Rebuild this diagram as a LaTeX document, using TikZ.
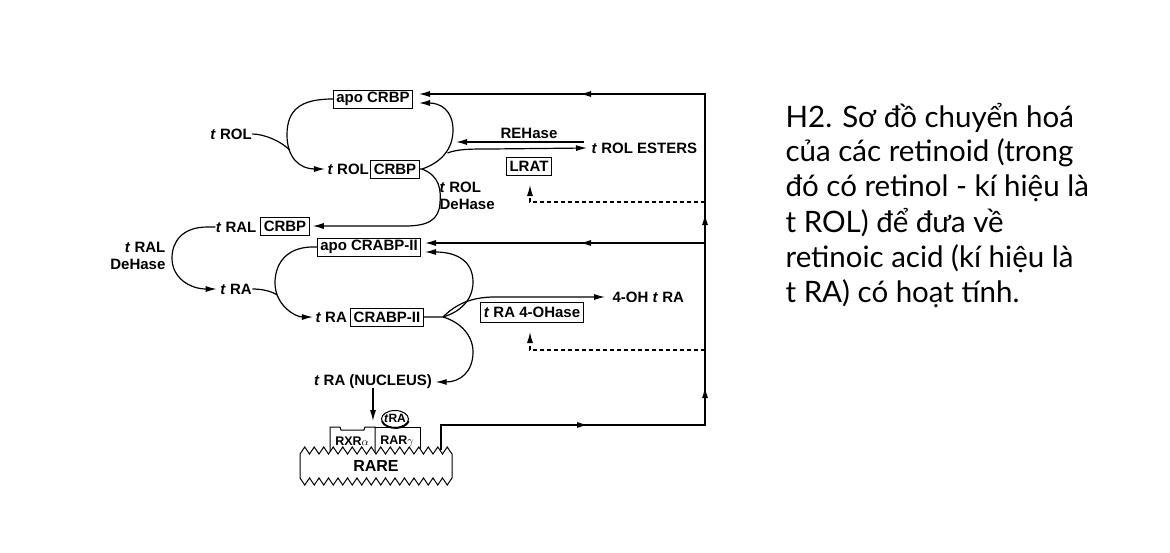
\documentclass[tikz,border=0pt]{standalone}
\usepackage{fontspec}
\setmainfont{Liberation Sans}
\newfontfamily\capfont{Lato}
\usetikzlibrary{arrows.meta,decorations.markings,calc}
\begin{document}
\begin{tikzpicture}[x=1pt,y=-1pt,line width=1.2pt,
  >={Latex[length=11pt,width=6pt]},
  lbl/.style={font=\fontsize{15}{17}\selectfont\bfseries, inner sep=0pt},
  box/.style={lbl, draw, line width=1pt, inner xsep=3pt, inner ysep=0pt, minimum height=18pt},
  captext/.style={anchor=base west, inner sep=0pt, font=\capfont\fontsize{29.5}{32}\selectfont},
  dsh/.style={dash pattern=on 4pt off 3pt, line width=1.1pt}
]
\useasboundingbox (0,0) rectangle (1170,552);

% ---------- nodes ----------
\node[box] (apocrbp) at (373,99) {apo CRBP};
\node[lbl] (trol) at (231,134) {\textit{t} ROL};
\node[box] (crbp1) at (395,169) {CRBP};
\node[lbl, anchor=east] (trolt) at (369.5,169) {\textit{t} ROL};
\node[lbl, anchor=west, align=left] (troldh) at (439,196) {\textit{t} ROL\\DeHase};
\node[lbl] (rehase) at (529,133) {REHase};
\node[lbl, anchor=west] (esters) at (591,148) {\textit{t} ROL ESTERS};
\node[box] (lrat) at (529,166) {LRAT};
\node[box] (crbp2) at (285,226) {CRBP};
\node[lbl, anchor=east] (tral) at (257,227) {\textit{t} RAL};
\node[lbl, anchor=east, align=right] (traldh) at (166,256) {\textit{t} RAL\\DeHase};
\node[lbl] (tra) at (236,289) {\textit{t} RA};
\node[box] (apocrabp) at (369,247) {apo CRABP-II};
\node[box] (crabp) at (387,317) {CRABP-II};
\node[lbl, anchor=east] (tra2) at (347.5,317) {\textit{t} RA};
\node[lbl, anchor=west] (ohtra) at (612,297) {4-OH \textit{t} RA};
\node[box, line width=0.8pt, minimum width=99pt, minimum height=20pt] (ohase) at (532,312) {\textit{t} RA 4-OHase};
\node[lbl] (nucleus) at (373,382) {\textit{t} RA (NUCLEUS)};

% ---------- named points ----------
\coordinate (fk1) at (422,169);
\coordinate (apoin) at (419,103);
\coordinate (apoin2) at (419,94);
\coordinate (j1) at (447.5,153);
\coordinate (reh1) at (584,142);
\coordinate (reh2) at (456,142);
\coordinate (j2) at (289.6,150);
\coordinate (fk2) at (443,317);
\coordinate (crin) at (425,252);
\coordinate (crin2) at (425,243);
\coordinate (j3) at (277.3,295);
\coordinate (rv0) at (441,450);
\coordinate (rc1) at (441,425);
\coordinate (rc2) at (705,425);
\coordinate (rc3) at (705,94);
\coordinate (rv243) at (705,243);
\coordinate (d1) at (705,202);
\coordinate (d1t) at (530,185);
\coordinate (d2) at (705,350);
\coordinate (d2t) at (530,332);
\coordinate (rtop) at (373,421);

% ---------- CRBP cycle ----------
\draw[->] (apocrbp.west) .. controls (300,99) and (287,110) .. (287,135)
  .. controls (287,158) and (300,169) .. ([xshift=-2pt]trolt.west);
\draw (trol.east) .. controls (265,134) and (282,142) .. (j2);
\draw[->] (crbp1.east) -- (fk1) .. controls (440,163) and (453,150) .. (453,130)
  .. controls (453,110) and (440,103) .. (apoin);
\draw[->] (j1) .. controls (458,149) and (470,149) .. (490,149) -- ([xshift=-4pt]esters.west);
\draw[->] (reh1) -- (reh2);
\draw[->] (fk1) .. controls (440,176) and (441,190) .. (440,203)
  .. controls (439,220) and (428,226) .. (405,226) -- ([xshift=3pt]crbp2.east);

% ---------- tRAL -> tRA ----------
\draw[->] (tral.west) -- ++(-8,0) .. controls (182,227) and (172,242) .. (172,258)
  .. controls (172,278) and (190,289) .. ([xshift=-3pt]tra.west);

% ---------- CRABP-II cycle ----------
\draw[->] (apocrabp.west) -- ++(-6,0) .. controls (285,248) and (275,265) .. (275,283)
  .. controls (275,305) and (295,317) .. ([xshift=-2pt]tra2.west);
\draw (tra.east) .. controls (262,289) and (271,291) .. (j3);
\draw[->] (crabp.east) -- (fk2) .. controls (460,312) and (473,300) .. (473,282)
  .. controls (473,262) and (458,252) .. (crin);
\draw[->] (fk2) .. controls (455,305) and (470,297) .. (495,297) -- ([xshift=-7pt]ohtra.west);
\draw[->] (fk2) .. controls (460,322) and (473,335) .. (473,352)
  .. controls (473,372) and (460,382) .. ([xshift=3pt]nucleus.east);

% ---------- feedback loop ----------
\draw[->, postaction={decorate,decoration={markings,
    mark=at position 172pt with {\arrow{>}},
    mark=at position 327pt with {\arrow{>}},
    mark=at position 500pt with {\arrow{>}},
    mark=at position 745pt with {\arrow{>}}}}]
  (rv0) -- (rc1) -- (rc2) -- (rc3) -- (apoin2);
\draw[->, postaction={decorate,decoration={markings,
    mark=at position 125pt with {\arrow{>}}}}] (rv243) -- (crin2);
\draw[dsh,->] (d1) -| (d1t);
\draw[dsh,->] (d2) -| (d2t);

% ---------- nucleus ----------
\draw[->] ([yshift=2pt]nucleus.south) -- (rtop);
\draw[line width=1pt] (330,452) -- (330,427) -- (340,427) -- (341,430) -- (364,430) -- (365,427) -- (375,427) -- (375,452);
\draw[line width=1pt] (375,427) -- (420,427) -- (420,452);
\node[font=\fontsize{12.5}{14}\selectfont\bfseries, inner sep=0pt] (rxr) at (352,441) {RXR{\fontsize{11}{12}\selectfont$\alpha$}};
\node[font=\fontsize{12.5}{14}\selectfont\bfseries, inner sep=0pt] (rar) at (397,441) {RAR{\fontsize{11}{12}\selectfont$\gamma$}};
\draw[line width=1pt, fill=white] (395,419) ellipse [x radius=13.5pt, y radius=8.5pt];
\draw[line width=1.8pt] (382,421) arc[start angle=190, end angle=350, x radius=13.5pt, y radius=8.5pt];
\node[font=\fontsize{12}{12}\selectfont\bfseries, inner sep=0pt] (tralig) at (395,418.5) {\textit{t}RA};
\draw[line width=1pt, fill=white] (300,454) foreach \i in {1,...,16}{ -- ++(4.75,-7) -- ++(4.75,7) }
  -- ++(0,24) foreach \i in {1,...,16}{ -- ++(-4.75,7) -- ++(-4.75,-7) } -- cycle;
\node[lbl, font=\fontsize{16}{18}\selectfont\bfseries] (rare) at (376,466) {RARE};

% ---------- caption ----------
\node[captext] (c1) at (785,127) {H2. Sơ đồ chuyển hoá};
\node[captext] (c2) at (785,161) {của các retinoid (trong};
\node[captext] (c3) at (785,196) {đó có retinol - kí hiệu là};
\node[captext] (c4) at (785,232) {t ROL) để đưa về};
\node[captext] (c5) at (785,267) {retinoic acid (kí hiệu là};
\node[captext] (c6) at (785,302) {t RA) có hoạt tính.};
\end{tikzpicture}
\end{document}
